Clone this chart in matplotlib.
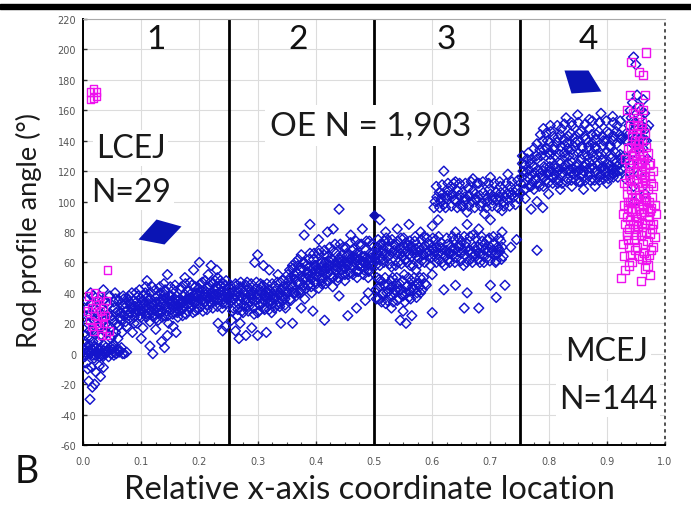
import matplotlib
matplotlib.use("Agg")
import matplotlib.pyplot as plt
from matplotlib.path import Path
from matplotlib.patches import Rectangle
import numpy as np

plt.rcParams['font.family'] = ['Lato', 'DejaVu Sans']

# ---------------- data ----------------
region_bounds = [0.25, 0.5, 0.75]
region_labels = ["1", "2", "3", "4"]
region_label_x = [0.125, 0.369, 0.625, 0.869]

xticks = [0.0, 0.1, 0.2, 0.3, 0.4, 0.5, 0.6, 0.7, 0.8, 0.9, 1.0]
yticks = [-60, -40, -20, 0, 20, 40, 60, 80, 100, 120, 140, 160, 180, 200, 220]

# OE (blue diamonds), grouped by x segment: (x, angle)
oe_seg_a = [(0.005,1),(0.012,0),(0.018,2),(0.024,1),(0.03,0),(0.036,2),(0.042,1),(0.048,0),(0.054,1),
            (0.008,4),(0.015,3),(0.021,-1),(0.027,3),(0.033,-1),(0.039,4),(0.045,3),(0.051,3),(0.057,0),
            (0.062,1),(0.068,0),(0.075,1),(0.003,-2),(0.01,6),(0.02,5),(0.035,6),(0.05,5),(0.044,-2),(0.028,-2),
            (0.008,-10),(0.015,-9),(0.022,-12),(0.028,-8),(0.035,-9),(0.01,-18),(0.016,-22),(0.02,-20),
            (0.012,-30),(0.03,-15),(0.005,-6),
            (0.004,12),(0.008,20),(0.012,25),(0.016,15),(0.02,30),(0.025,22),(0.03,12),(0.034,35),(0.038,28),
            (0.042,18),(0.046,38),(0.05,25),(0.054,30),(0.058,20),(0.006,35),(0.01,10),(0.018,38),(0.026,8),
            (0.032,26),(0.04,14),(0.044,32),(0.048,10),(0.052,22),(0.056,14),(0.06,28),(0.035,42),(0.055,40),
            (0.062,35),(0.065,22),(0.068,32),
            (0.002,3),(0.006,0),(0.009,2),(0.014,1),(0.017,-1),(0.023,4),(0.026,0),(0.031,3),(0.037,0),
            (0.041,2),(0.047,4),(0.053,-1),(0.059,3),(0.064,2),(0.071,0),(0.011,15),(0.019,22),(0.024,28),
            (0.029,18),(0.037,22),(0.043,26),(0.049,17),(0.053,34),(0.057,27),(0.061,18),(0.066,27),
            (0.07,36),(0.073,21),(0.014,33),(0.007,25)]
oe_fill_a = [(0.003,8),(0.007,30),(0.013,40),(0.017,8),(0.022,14),(0.027,36),(0.031,20),(0.036,15),(0.041,34),
             (0.046,24),(0.051,12),(0.056,36),(0.06,10),(0.063,24),(0.067,14),(0.069,38),(0.004,-1),(0.019,-3),
             (0.034,-2),(0.052,6),(0.066,4)]
oe_seg_b = [(0.070,25),(0.072,33),(0.075,18),(0.077,29),(0.079,38),(0.081,22),(0.083,30),(0.085,14),(0.087,35),
            (0.089,27),(0.091,40),(0.093,20),(0.095,31),(0.097,25),(0.099,36),(0.101,28),(0.103,17),(0.105,33),
            (0.107,40),(0.109,24),(0.111,30),(0.113,35),(0.115,21),(0.117,28),(0.119,44),(0.121,32),(0.123,26),
            (0.125,37),(0.127,30),(0.129,22),(0.131,34),(0.133,40),(0.135,28),(0.137,33),(0.139,46),(0.141,25),
            (0.143,36),(0.145,31),(0.147,20),(0.149,38),(0.151,29),(0.153,35),(0.155,42),(0.157,27),(0.159,33),
            (0.161,38),(0.163,24),(0.165,31),(0.167,36),(0.169,44),(0.171,29),(0.173,34),(0.175,39),(0.177,26),
            (0.179,32),(0.181,41),(0.183,36),(0.185,30),(0.187,45),(0.189,34),(0.191,38),(0.193,28),(0.195,40),
            (0.197,33),(0.199,43),(0.201,36),(0.203,31),(0.205,47),(0.207,38),(0.209,34),(0.211,41),(0.213,29),
            (0.215,44),(0.217,37),(0.219,40),(0.221,33),(0.223,46),(0.225,39),(0.227,42),(0.229,35),(0.231,50),
            (0.233,40),(0.235,37),(0.237,44),(0.239,30),(0.241,41),(0.243,38),(0.245,45),(0.247,36),(0.249,42),
            (0.08,34),(0.095,38),(0.11,37),(0.125,23),(0.14,39),(0.155,30),(0.17,34),(0.185,37),(0.2,41),
            (0.215,36),(0.23,44),(0.245,33),(0.09,31),(0.105,27),(0.12,33),(0.135,36),(0.15,33),(0.165,28),
            (0.18,36),(0.195,35),(0.21,39),(0.225,36),(0.24,46),
            (0.1,10),(0.115,5),(0.125,16),(0.135,8),(0.14,4),(0.145,12),(0.12,0),(0.155,18),(0.16,14),(0.2,60),
            (0.22,58),(0.215,52),(0.19,55),(0.24,15),(0.232,20),(0.145,52),(0.11,48),(0.175,50),(0.23,55),(0.245,18),
            (0.074,28),(0.078,25),(0.082,33),(0.086,30),(0.088,24),(0.092,34),(0.096,28),(0.098,32),(0.102,35),
            (0.106,30),(0.108,26),(0.112,33),(0.116,36),(0.118,31),(0.122,29),(0.126,34),(0.128,38),(0.132,31),
            (0.134,27),(0.138,35),(0.142,32),(0.144,28),(0.148,35),(0.152,38),(0.154,32),(0.158,36),(0.162,30),
            (0.164,35),(0.168,32),(0.172,38),(0.174,31),(0.178,36),(0.182,33),(0.184,39),(0.188,36),(0.192,33),
            (0.194,37),(0.198,38),(0.202,40),(0.204,35),(0.208,42),(0.212,37),(0.214,40),(0.218,34),(0.222,40),
            (0.224,37),(0.228,39),(0.232,36),(0.236,41),(0.238,38),(0.242,36),(0.244,40),(0.248,39)]
oe_fill_b = [(0.071,30),(0.076,36),(0.081,27),(0.084,40),(0.088,20),(0.093,29),(0.097,42),(0.1,24),(0.104,38),
             (0.108,44),(0.112,27),(0.117,40),(0.121,24),(0.124,42),(0.128,27),(0.132,44),(0.136,24),(0.141,42),
             (0.146,25),(0.15,44),(0.154,26),(0.158,45),(0.162,27),(0.167,42),(0.171,25),(0.176,46),(0.18,28),
             (0.184,47),(0.189,27),(0.193,44),(0.197,29),(0.202,46),(0.206,28),(0.21,48),(0.214,32),(0.219,47),
             (0.223,30),(0.227,48),(0.231,31),(0.236,48),(0.24,33),(0.246,48)]
oe_seg_c = [(0.252,36),(0.255,42),(0.258,30),(0.261,39),(0.264,45),(0.267,33),(0.27,38),(0.273,28),(0.276,41),
            (0.279,35),(0.282,47),(0.285,31),(0.288,39),(0.291,36),(0.294,26),(0.297,43),(0.3,37),(0.303,32),
            (0.306,40),(0.309,45),(0.312,29),(0.315,38),(0.318,34),(0.321,42),(0.324,27),(0.327,36),(0.33,44),
            (0.333,32),(0.336,39),(0.339,47),(0.342,35),(0.345,41),(0.348,30),(0.26,36),(0.27,44),(0.28,31),
            (0.29,40),(0.3,27),(0.31,35),(0.32,39),(0.33,36),(0.34,42),(0.265,25),(0.285,43),(0.305,46),
            (0.325,33),(0.345,38),
            (0.262,15),(0.268,10),(0.28,12),(0.29,17),(0.3,12),(0.27,20),(0.255,22),(0.3,65),(0.31,58),
            (0.32,55),(0.295,60),(0.335,52),(0.315,14),(0.34,20),
            (0.251,38),(0.254,34),(0.257,40),(0.259,36),(0.263,38),(0.266,41),(0.269,35),(0.272,37),(0.275,32),
            (0.278,39),(0.281,36),(0.284,40),(0.287,34),(0.289,37),(0.292,41),(0.296,35),(0.299,39),(0.302,36),
            (0.304,42),(0.308,33),(0.311,38),(0.314,41),(0.317,36),(0.319,40),(0.323,35),(0.326,39),(0.329,41),
            (0.332,37),(0.335,34),(0.338,40),(0.341,38),(0.344,44),(0.347,36),(0.349,41)]
oe_fill_c = [(0.253,45),(0.257,28),(0.262,46),(0.266,29),(0.271,47),(0.275,27),(0.28,45),(0.284,28),(0.289,46),
             (0.293,30),(0.298,47),(0.302,28),(0.307,44),(0.311,30),(0.316,46),(0.32,29),(0.325,46),(0.329,30),
             (0.334,47),(0.338,31),(0.343,48),(0.347,32)]
oe_seg_d = [(0.351,40),(0.354,48),(0.357,35),(0.36,44),(0.363,52),(0.366,38),(0.369,46),(0.372,55),(0.375,42),
            (0.378,49),(0.381,36),(0.384,58),(0.387,45),(0.39,51),(0.393,40),(0.396,62),(0.399,47),(0.402,54),
            (0.405,43),(0.408,59),(0.411,50),(0.414,65),(0.417,46),(0.42,56),(0.423,61),(0.426,52),(0.429,44),
            (0.432,58),(0.435,66),(0.438,50),(0.441,62),(0.444,55),(0.447,70),(0.45,48),(0.453,60),(0.456,65),
            (0.459,53),(0.462,68),(0.465,57),(0.468,62),(0.471,50),(0.474,72),(0.477,59),(0.48,64),(0.483,55),
            (0.486,68),(0.489,61),(0.492,74),(0.495,58),(0.498,66),
            (0.36,58),(0.37,62),(0.38,60),(0.39,66),(0.4,58),(0.41,60),(0.42,64),(0.43,68),(0.44,60),(0.45,56),
            (0.46,62),(0.47,66),(0.48,58),(0.49,55),(0.355,55),(0.365,60),(0.375,65),(0.385,52),(0.395,56),
            (0.405,66),(0.415,56),(0.425,58),(0.435,55),(0.445,65),(0.455,58),(0.465,69),(0.475,62),(0.485,60),
            (0.495,63),(0.37,40),(0.39,46),(0.41,48),(0.43,50),(0.45,52),(0.47,54),(0.49,50),
            (0.36,20),(0.375,30),(0.38,78),(0.39,85),(0.405,75),(0.42,80),(0.44,95),(0.43,82),(0.46,78),
            (0.48,82),(0.47,30),(0.455,25),(0.395,28),(0.415,22),(0.49,40),(0.485,35),(0.44,38),
            (0.352,44),(0.356,50),(0.359,46),(0.362,40),(0.364,49),(0.368,53),(0.371,47),(0.374,51),(0.377,56),
            (0.379,45),(0.383,50),(0.386,54),(0.389,57),(0.392,49),(0.394,53),(0.398,58),(0.401,51),(0.404,56),
            (0.407,53),(0.41,57),(0.413,54),(0.416,60),(0.419,52),(0.422,58),(0.424,55),(0.428,62),(0.431,56),
            (0.434,60),(0.437,57),(0.44,63),(0.443,58),(0.446,61),(0.449,57),(0.452,64),(0.454,59),(0.458,62),
            (0.461,58),(0.464,64),(0.467,60),(0.47,63),(0.473,58),(0.476,65),(0.479,61),(0.482,60),(0.484,64),
            (0.487,58),(0.49,62),(0.493,66),(0.496,61),(0.499,59)]
oe_fill_d = [(0.352,52),(0.356,36),(0.361,56),(0.365,40),(0.37,58),(0.374,40),(0.379,60),(0.383,43),(0.388,62),
             (0.392,44),(0.397,66),(0.401,46),(0.406,68),(0.41,46),(0.415,68),(0.419,48),(0.424,70),(0.428,50),
             (0.433,72),(0.437,48),(0.442,72),(0.446,52),(0.451,70),(0.455,52),(0.46,73),(0.464,52),(0.469,74),
             (0.473,54),(0.478,72),(0.482,52),(0.487,74),(0.491,54),(0.496,72)]
oe_seg_e = [(0.502,62),(0.506,70),(0.51,58),(0.514,66),(0.518,74),(0.522,63),(0.526,69),(0.53,57),(0.534,72),
            (0.538,65),(0.542,60),(0.546,76),(0.55,67),(0.554,62),(0.558,71),(0.562,58),(0.566,68),(0.57,74),
            (0.574,64),(0.578,70),(0.582,61),(0.586,77),(0.59,66),(0.594,72),(0.598,63),(0.602,69),(0.606,75),
            (0.61,62),(0.614,70),(0.618,66),(0.505,66),(0.515,62),(0.525,74),(0.535,68),(0.545,66),(0.555,73),
            (0.565,64),(0.575,67),(0.585,70),(0.595,68),(0.605,64),(0.615,73),(0.52,80),(0.54,82),(0.56,85),
            (0.58,80),(0.6,84),(0.51,88),
            (0.503,42),(0.508,36),(0.512,48),(0.516,40),(0.52,33),(0.524,45),(0.528,38),(0.532,50),(0.536,42),
            (0.54,35),(0.544,46),(0.548,39),(0.552,52),(0.556,44),(0.56,37),(0.564,48),(0.568,42),(0.572,55),
            (0.576,46),(0.58,40),(0.51,44),(0.525,41),(0.54,43),(0.555,40),(0.57,45),(0.585,50),(0.505,50),
            (0.53,30),(0.55,28),(0.565,25),(0.59,45),(0.6,52),
            (0.6,27),(0.62,42),(0.545,22),(0.555,20),
            (0.504,65),(0.508,68),(0.512,63),(0.516,69),(0.52,66),(0.524,70),(0.528,65),(0.532,67),(0.536,71),
            (0.54,66),(0.544,69),(0.548,64),(0.552,70),(0.556,67),(0.56,65),(0.564,71),(0.568,66),(0.572,69),
            (0.576,63),(0.58,68),(0.584,65),(0.588,71),(0.592,67),(0.596,65),(0.6,70),(0.604,67),(0.608,70),
            (0.612,66),(0.616,69),(0.506,43),(0.514,39),(0.518,45),(0.522,40),(0.53,44),(0.534,40),(0.538,46),
            (0.546,42),(0.55,38),(0.558,45),(0.562,41),(0.566,44),(0.574,40),(0.578,44)]
oe_fill_e = [(0.503,58),(0.507,75),(0.511,72),(0.517,60),(0.521,76),(0.527,59),(0.531,75),(0.537,58),(0.541,74),
             (0.547,59),(0.551,76),(0.557,60),(0.561,74),(0.567,58),(0.571,77),(0.577,59),(0.581,75),(0.587,60),
             (0.591,76),(0.597,58),(0.601,76),(0.607,60),(0.611,77),(0.617,60),
             (0.504,36),(0.509,49),(0.513,34),(0.519,50),(0.523,35),(0.529,48),(0.533,34),(0.539,50),(0.543,36),
             (0.549,48),(0.553,34),(0.559,50),(0.563,36),(0.569,50),(0.573,37),(0.579,50),(0.583,42),(0.588,46)]
oe_seg_f = [(0.622,64),(0.626,72),(0.63,60),(0.634,68),(0.638,75),(0.642,63),(0.646,70),(0.65,66),(0.654,58),
            (0.658,73),(0.662,67),(0.666,62),(0.67,78),(0.674,65),(0.678,70),(0.682,60),(0.686,74),(0.69,68),
            (0.694,63),(0.698,76),(0.702,66),(0.706,72),(0.71,61),(0.714,69),(0.718,74),(0.722,64),(0.63,66),
            (0.65,74),(0.67,64),(0.69,72),(0.71,66),(0.64,80),(0.66,85),(0.68,82),(0.7,88),(0.72,80),(0.735,70),
            (0.745,75),
            (0.605,100),(0.612,106),(0.62,98),(0.626,104),(0.632,110),(0.638,101),(0.644,107),(0.65,97),
            (0.656,103),(0.662,109),(0.668,100),(0.674,105),(0.68,112),(0.686,99),(0.692,104),(0.698,108),
            (0.704,101),(0.71,106),(0.716,113),(0.722,100),(0.728,105),(0.734,110),(0.74,103),(0.746,108),
            (0.615,102),(0.635,105),(0.655,100),(0.675,102),(0.695,100),(0.715,103),(0.735,106),(0.64,113),
            (0.67,115),(0.7,116),(0.73,118),(0.66,93),(0.69,92),(0.72,94),
            (0.64,45),(0.66,40),(0.68,30),(0.7,45),(0.71,37),(0.725,45),(0.655,30),(0.62,120),(0.61,88),
            (0.624,68),(0.628,66),(0.632,70),(0.636,65),(0.64,69),(0.644,67),(0.648,71),(0.652,68),(0.656,65),
            (0.66,70),(0.664,68),(0.668,66),(0.672,70),(0.676,68),(0.68,66),(0.684,70),(0.688,65),(0.692,69),
            (0.696,67),(0.7,70),(0.704,68),(0.708,65),(0.712,70),(0.716,67),(0.72,70),
            (0.608,103),(0.614,100),(0.618,105),(0.624,102),(0.628,107),(0.634,103),(0.64,101),(0.646,104),
            (0.652,106),(0.658,101),(0.664,104),(0.67,107),(0.676,101),(0.682,104),(0.688,106),(0.694,102),
            (0.7,105),(0.706,103),(0.712,101),(0.718,106),(0.724,103),(0.73,101),(0.736,104),(0.742,106),
            (0.748,102)]
oe_fill_f = [(0.621,58),(0.625,76),(0.629,62),(0.635,77),(0.639,60),(0.645,76),(0.649,61),(0.655,77),(0.659,60),
             (0.665,77),(0.669,60),(0.675,76),(0.679,62),(0.685,77),(0.689,60),(0.695,75),(0.699,61),(0.705,77),
             (0.709,60),(0.715,76),(0.719,62),
             (0.603,96),(0.607,110),(0.613,96),(0.617,111),(0.623,96),(0.627,112),(0.633,97),(0.637,112),
             (0.643,96),(0.647,112),(0.653,97),(0.657,112),(0.663,97),(0.667,113),(0.673,96),(0.677,112),
             (0.683,97),(0.687,113),(0.693,96),(0.697,112),(0.703,97),(0.707,112),(0.713,96),(0.717,110),
             (0.723,97),(0.727,112),(0.733,97),(0.737,113),(0.743,98),(0.747,114)]
oe_seg_g = [(0.752,112),(0.756,120),(0.76,108),(0.764,116),(0.768,125),(0.772,113),(0.776,119),(0.78,128),
            (0.784,110),(0.788,117),(0.792,123),(0.796,114),(0.8,120),(0.804,127),(0.808,116),(0.812,122),
            (0.816,112),(0.82,125),(0.824,119),(0.828,130),(0.832,115),(0.836,121),(0.84,126),(0.844,118),
            (0.848,123),(0.852,113),(0.856,128),(0.86,120),(0.864,125),(0.868,117),(0.872,122),(0.876,130),
            (0.88,119),(0.884,124),(0.888,114),(0.892,127),(0.896,121),(0.9,125),(0.904,118),(0.908,129),
            (0.912,122),(0.916,126),(0.92,120),(0.924,128),(0.76,124),(0.77,110),(0.79,120),(0.81,118),
            (0.83,124),(0.85,120),(0.87,126),(0.89,122),(0.91,118),(0.78,100),(0.77,95),(0.76,102),(0.79,96),
            (0.8,105),(0.82,108),(0.84,110),(0.86,108),(0.88,110),(0.9,112),(0.755,130),(0.765,132),(0.775,135),
            (0.78,138),(0.786,144),(0.792,134),(0.798,140),(0.804,146),(0.81,136),(0.816,142),(0.822,148),
            (0.828,137),(0.834,143),(0.84,150),(0.846,139),(0.852,145),(0.858,135),(0.864,141),(0.87,148),
            (0.876,138),(0.882,144),(0.888,152),(0.894,140),(0.9,146),(0.906,137),(0.912,143),(0.918,150),
            (0.924,141),(0.83,155),(0.85,157),(0.87,154),(0.89,158),(0.91,156),(0.8,132),(0.84,134),(0.88,135),
            (0.78,68),
            (0.754,116),(0.758,112),(0.762,119),(0.766,121),(0.77,117),(0.774,123),(0.778,115),(0.782,121),
            (0.786,119),(0.79,116),(0.794,122),(0.798,118),(0.802,123),(0.806,120),(0.81,124),(0.814,119),
            (0.818,121),(0.822,118),(0.826,123),(0.83,120),(0.834,125),(0.838,119),(0.842,122),(0.846,120),
            (0.85,125),(0.854,121),(0.858,118),(0.862,123),(0.866,121),(0.87,119),(0.874,124),(0.878,122),
            (0.882,120),(0.886,125),(0.89,118),(0.894,123),(0.898,119),(0.902,122),(0.906,124),(0.91,121),
            (0.914,119),(0.918,123),(0.922,125),(0.926,121),
            (0.79,140),(0.796,145),(0.802,139),(0.808,143),(0.814,139),(0.82,144),(0.826,141),(0.832,139),
            (0.838,145),(0.844,142),(0.85,140),(0.856,146),(0.862,143),(0.868,139),(0.874,144),(0.88,141),
            (0.886,146),(0.892,143),(0.898,140),(0.904,145),(0.91,140),(0.916,146),(0.922,144),(0.928,142)]
oe_fill_g = [(0.751,106),(0.755,125),(0.759,108),(0.763,128),(0.767,110),(0.771,128),(0.775,108),(0.779,130),
             (0.783,112),(0.787,130),(0.791,110),(0.795,130),(0.799,112),(0.803,131),(0.807,112),(0.811,130),
             (0.815,114),(0.819,131),(0.823,112),(0.827,132),(0.831,113),(0.835,130),(0.839,114),(0.843,131),
             (0.847,114),(0.851,132),(0.855,113),(0.859,131),(0.863,114),(0.867,130),(0.871,114),(0.875,132),
             (0.879,114),(0.883,131),(0.887,116),(0.891,131),(0.895,115),(0.899,132),(0.903,115),(0.907,131),
             (0.911,116),(0.915,132),(0.919,116),(0.923,131),
             (0.785,134),(0.791,148),(0.797,135),(0.803,150),(0.809,134),(0.815,150),(0.821,136),(0.827,151),
             (0.833,135),(0.839,152),(0.845,136),(0.851,152),(0.857,136),(0.863,151),(0.869,136),(0.875,153),
             (0.881,136),(0.887,152),(0.893,137),(0.899,153),(0.905,136),(0.911,152),(0.917,138),(0.923,153)]
oe_seg_h = [(0.93,130),(0.934,145),(0.938,120),(0.942,155),(0.946,110),(0.95,138),(0.954,162),(0.958,125),
            (0.962,148),(0.966,105),(0.935,140),(0.94,160),(0.945,132),(0.95,150),(0.955,118),(0.96,142),
            (0.965,158),(0.97,128),(0.932,115),(0.948,100),(0.952,170),(0.944,165),(0.956,145),(0.962,135),
            (0.938,150),(0.958,155),(0.963,167),(0.968,140),(0.972,150),(0.946,195),(0.95,190),
            (0.932,140),(0.936,128),(0.94,145),(0.944,138),(0.948,152),(0.952,142),(0.956,135),(0.96,150),
            (0.964,140),(0.968,148),(0.934,155),(0.942,125),(0.958,160)]
oe_filled = [(0.5, 91)]

lcej_pts = [(0.013,172),(0.018,174),(0.023,172),(0.013,167),(0.018,168),(0.023,169),
            (0.01,38),(0.015,30),(0.02,25),(0.025,35),(0.03,28),(0.035,20),(0.012,22),(0.018,15),(0.022,32),
            (0.028,18),(0.032,12),(0.038,25),(0.04,35),(0.04,12),(0.015,18),(0.025,20),(0.03,38),(0.035,30),
            (0.02,40),(0.008,28),(0.045,15),(0.042,55),(0.033,24)]

mcej_pts = [(0.94,150),(0.945,158),(0.95,145),(0.955,162),(0.96,152),(0.948,140),(0.952,155),(0.958,148),
            (0.962,160),(0.944,143),(0.954,150),(0.966,145),
            (0.932,128),(0.936,135),(0.94,122),(0.944,130),(0.948,138),(0.952,125),(0.956,133),(0.96,120),
            (0.964,128),(0.968,136),(0.972,124),(0.938,125),(0.946,132),(0.954,138),(0.962,130),(0.97,132),
            (0.942,136),(0.95,128),(0.958,126),(0.966,122),
            (0.93,112),(0.934,105),(0.938,118),(0.942,108),(0.946,115),(0.95,102),(0.954,112),(0.958,118),
            (0.962,105),(0.966,114),(0.97,108),(0.974,117),(0.978,103),(0.936,100),(0.944,102),(0.952,120),
            (0.96,110),(0.968,101),(0.976,112),(0.94,114),(0.948,108),(0.956,104),(0.964,116),(0.972,100),
            (0.98,110),
            (0.928,92),(0.932,85),(0.936,96),(0.94,88),(0.944,94),(0.948,82),(0.952,90),(0.956,97),(0.96,86),
            (0.964,93),(0.968,80),(0.972,90),(0.976,96),(0.98,85),(0.984,92),(0.93,98),(0.938,82),(0.946,99),
            (0.954,84),(0.962,98),(0.97,88),(0.978,82),(0.942,95),(0.95,87),(0.958,92),(0.966,85),(0.974,94),
            (0.982,98),(0.934,90),(0.948,94),
            (0.928,72),(0.934,78),(0.94,65),(0.946,75),(0.952,70),(0.958,78),(0.964,66),(0.97,74),(0.976,68),
            (0.982,77),(0.93,64),(0.938,70),(0.944,60),(0.95,78),(0.956,64),(0.962,72),(0.968,62),(0.974,79),
            (0.98,70),(0.936,75),(0.96,80),(0.972,65),(0.948,68),
            (0.925,50),(0.932,55),(0.938,58),(0.958,48),(0.965,56),(0.97,58),(0.975,52),(0.96,62),
            (0.942,192),(0.968,198),(0.955,185),(0.962,183),(0.935,160),(0.94,170),(0.965,170),
            (0.95,115),(0.955,125),(0.945,120),(0.96,140),(0.965,112),(0.935,110),(0.975,125),(0.97,95),
            (0.965,102),(0.955,95),(0.945,85),(0.935,80),(0.975,85),(0.98,120),(0.94,100),(0.95,135),
            (0.96,125),(0.955,140),(0.945,148)]

# large filled markers (annotation glyphs)
big_marker_pos = [(0.134, 80), (0.856, 179)]

# ---------------- figure ----------------
W, H = 691, 510
fig = plt.figure(figsize=(W/100, H/100), dpi=100)
ax = fig.add_axes([83/W, 1-446/H, 582/W, 426/H])

ax.set_xlim(0, 1)
ax.set_ylim(-60, 220)

blue = '#1414cc'
mag = '#ee11ee'

oe_all = (oe_seg_a + oe_fill_a + oe_seg_b + oe_fill_b + oe_seg_c + oe_fill_c + oe_seg_d + oe_fill_d +
          oe_seg_e + oe_fill_e + oe_seg_f + oe_fill_f + oe_seg_g + oe_fill_g + oe_seg_h)
ox = [p[0] for p in oe_all]
oy = [p[1] for p in oe_all]
ax.scatter(ox, oy, marker='D', s=25, facecolors='none', edgecolors=blue, linewidths=1.05, zorder=3)
ax.scatter([p[0] for p in oe_filled], [p[1] for p in oe_filled], marker='D', s=22,
           color='#1010b0', zorder=3)

ax.scatter([p[0] for p in lcej_pts], [p[1] for p in lcej_pts], marker='s', s=28,
           facecolors='none', edgecolors=mag, linewidths=1.0, zorder=4)
ax.scatter([p[0] for p in mcej_pts], [p[1] for p in mcej_pts], marker='s', s=34,
           facecolors='none', edgecolors=mag, linewidths=1.0, zorder=4)

# big parallelogram glyphs
left_shape = Path([(-5, 13), (20, 6), (3, -12), (-23, -7), (-5, 13)],
                  [Path.MOVETO, Path.LINETO, Path.LINETO, Path.LINETO, Path.CLOSEPOLY])
right_shape = Path([(-17, 11), (7, 11), (20, -10), (-10, -12), (-17, 11)],
                   [Path.MOVETO, Path.LINETO, Path.LINETO, Path.LINETO, Path.CLOSEPOLY])
ax.scatter([big_marker_pos[0][0]], [big_marker_pos[0][1]], marker=left_shape, s=(46*0.72)**2,
           color='#0a14b4', linewidths=0, zorder=5)
ax.scatter([big_marker_pos[1][0]], [big_marker_pos[1][1]], marker=right_shape, s=(40*0.72)**2,
           color='#0a14b4', linewidths=0, zorder=5)

# region boundaries
for b in region_bounds:
    ax.axvline(b, color='black', lw=2.0, zorder=2)

# grid / ticks
ax.set_xticks(xticks)
ax.set_yticks(yticks)
ax.set_xticklabels([f"{v:.1f}" for v in xticks])
ax.set_yticklabels([str(v) for v in yticks])
ax.grid(True, color='#dcdcdc', lw=0.8, zorder=0)
ax.set_axisbelow(True)
ax.set_xticks(np.arange(0, 1.0001, 0.025), minor=True)
ax.tick_params(axis='both', which='major', direction='in', length=3, width=1, labelsize=7,
               labelcolor='#555555', color='#333333')
ax.tick_params(axis='x', which='major', pad=8)
ax.tick_params(axis='y', which='major', pad=5)
ax.tick_params(axis='x', which='minor', direction='in', length=2, width=0.8, color='#555555')
for lbl in ax.get_xticklabels() + ax.get_yticklabels():
    lbl.set_family(['DejaVu Sans'])

for s in ['left', 'bottom']:
    ax.spines[s].set_color('black')
    ax.spines[s].set_linewidth(1.4)
ax.spines['top'].set_color('#aaaaaa')
ax.spines['top'].set_linewidth(0.8)
ax.spines['right'].set_color('#333333')
ax.spines['right'].set_linestyle((0, (1, 3)))
ax.spines['right'].set_linewidth(1.2)

# region labels
for lab, xv in zip(region_labels, region_label_x):
    ax.text(xv, 207, lab, fontsize=24, ha='center', va='center', color='#111111', zorder=6)

txt = '#1a1a1a'
fs = 23
box = dict(facecolor='white', edgecolor='none', pad=2)
ax.text(0.495, 150, "OE N = 1,903", fontsize=24, ha='center', va='center', color=txt,
        bbox=dict(facecolor='white', edgecolor='none', pad=4), zorder=6)
ax.text(0.082, 135, "LCEJ", fontsize=fs, ha='center', va='center', color=txt, bbox=box, zorder=6)
ax.text(0.082, 106, "N=29", fontsize=fs, ha='center', va='center', color=txt, bbox=box, zorder=6)
ax.text(0.900, 2, "MCEJ", fontsize=fs, ha='center', va='center', color=txt, bbox=box, zorder=6)
ax.text(0.902, -30, "N=144", fontsize=fs, ha='center', va='center', color=txt, bbox=box, zorder=6)

ax.set_xlabel("Relative x-axis coordinate location", fontsize=23.5, color=txt)
ax.xaxis.set_label_coords(0.493, -0.103)
ax.xaxis.label.set_va('center')
ax.set_ylabel("Rod profile angle (°)", fontsize=19.5, color=txt)
ax.yaxis.set_label_coords(-0.093, 0.507)
ax.yaxis.label.set_va('center')

fig.text(15/W, 1-472/H, "B", fontsize=27, ha='left', va='center', color='#111111')

# top black bar of the panel frame
fig.add_artist(Rectangle((0, 1-10/H), 1, 5/H, transform=fig.transFigure, color='black', zorder=10))

fig.savefig("out.png", dpi=100)
